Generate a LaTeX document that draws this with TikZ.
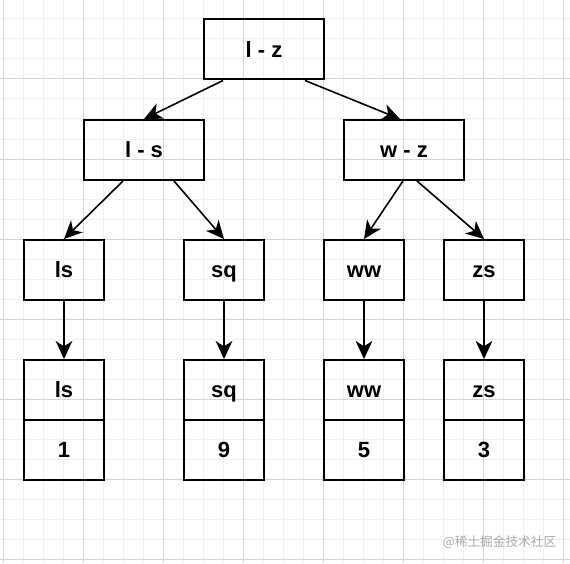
\documentclass[tikz,border=0pt]{standalone}
\usepackage{fontspec}
\setmainfont{Liberation Sans}
\newfontfamily\cjkfont{Noto Sans CJK SC}
\definecolor{gradeClara}{RGB}{240,240,240}
\definecolor{gradeEscura}{RGB}{212,212,212}
\definecolor{marcaAgua}{RGB}{170,170,170}
\usepackage{tikz}
\usetikzlibrary{arrows.meta,positioning}
\tikzset{
  caixa/.style={rectangle, draw=black, line width=1.5pt, fill=none,
                minimum width=90pt, minimum height=45pt, inner sep=0pt,
                text height=11.5pt, text depth=-1pt,
                align=center, font=\fontsize{16.5}{19}\selectfont\bfseries},
  folha/.style={caixa, minimum width=60pt},
  seta/.style={-{Stealth[length=13.5pt, width=12.5pt, inset=4pt]}, line width=1.2pt, black},
  gradeFina/.style={gradeClara, line width=0.75pt},
  gradeGrossa/.style={gradeEscura, line width=0.75pt},
}
\begin{document}
\begin{tikzpicture}[x=0.75pt, y=-0.75pt]
  \useasboundingbox[fill=white] (0,0) rectangle (570,563);
  % grade de fundo
  \foreach \gx in {3,23,...,563} \draw[gradeFina] (\gx,0) -- (\gx,563);
  \foreach \gy in {19,39,...,559} \draw[gradeFina] (0,\gy) -- (570,\gy);
  \foreach \gx in {3,83,...,563} \draw[gradeGrossa] (\gx,0) -- (\gx,563);
  \foreach \gy in {79,159,...,559} \draw[gradeGrossa] (0,\gy) -- (570,\gy);

  % arvore
  \node[caixa] (lz) at (264,49.5) {l - z};
  \node[caixa] (ls) at (144,150) {l - s};
  \node[caixa] (wz) at (404,150) {w - z};

  \node[folha] (fls) at (64,270) {ls};
  \node[folha] (fsq) at (224,270) {sq};
  \node[folha] (fww) at (364,270) {ww};
  \node[folha] (fzs) at (484,270) {zs};

  % tabelas
  \foreach \nome/\px/\val in {ls/64/1, sq/224/9, ww/364/5, zs/484/3} {
    \node[folha] (t\nome) at (\px,390) {\nome};
    \node[folha] (v\nome) at (\px,450) {\val};
  }

  \draw[seta] ([xshift=-30.75pt]lz.south) -- (ls.north);
  \draw[seta] ([xshift=30.75pt]lz.south) -- ([xshift=-3pt]wz.north);
  \draw[seta] ([xshift=-15.75pt]ls.south) -- (fls.north);
  \draw[seta] ([xshift=22.5pt]ls.south) -- (fsq.north);
  \draw[seta] ([xshift=-0.75pt]wz.south) -- (fww.north);
  \draw[seta] ([xshift=9.75pt]wz.south) -- (fzs.north);
  \foreach \nome in {ls,sq,ww,zs}
    \draw[seta] (f\nome.south) -- (t\nome.north);

  \node[text=marcaAgua, font=\cjkfont\fontsize{9.5}{11}\selectfont] (marca) at (499.5,542) {@稀土掘金技术社区};
\end{tikzpicture}
\end{document}
